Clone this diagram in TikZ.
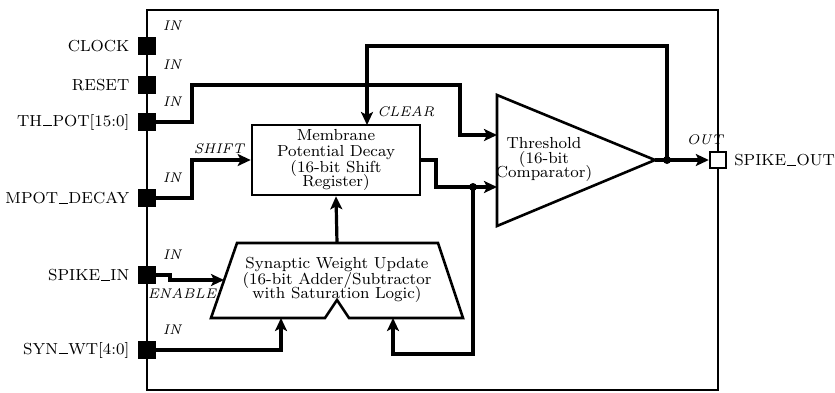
\documentclass[tikz,border=0pt]{standalone}
\usetikzlibrary{arrows.meta,calc}
\newcommand{\usc}{\leavevmode\kern.05em\vbox{\hrule width.55em height 0.45pt}\kern.05em}
\begin{document}
\begin{tikzpicture}[x=0.5pt,y=-0.5pt,
  wire/.style={line width=1.6pt},
  arr/.style={wire,-{Stealth[length=6.5pt,width=6pt,inset=1.5pt]}},
  pinbox/.style={draw, fill=black, minimum size=8pt, inner sep=0pt, line width=0.6pt},
  outpin/.style={draw, fill=white, minimum size=8pt, inner sep=0pt, line width=1.2pt},
  pinlbl/.style={font=\footnotesize, anchor=east, xshift=-1pt},
  iolbl/.style={font=\scriptsize\itshape, inner sep=1pt},
  blk/.style={draw, line width=1.3pt, fill=white},
  blktxt/.style={font=\fontsize{8}{7.8}\selectfont, align=center, inner sep=0pt},
  dot/.style={circle, fill=black, inner sep=0pt, minimum size=4pt}]
\useasboundingbox (0,0) rectangle (835,392);
% outer module
\draw[line width=1pt] (147,10) rectangle (718,390);
% pins
\node[pinbox] (pclk) at (147,46) {};
\node[pinbox] (prst) at (147,85) {};
\node[pinbox] (pth) at (147,122) {};
\node[pinbox] (pmpot) at (147,198) {};
\node[pinbox] (pspk) at (147,275) {};
\node[pinbox] (psyn) at (147,350) {};
\node[outpin] (pout) at (718,160) {};
\node[pinlbl] (lclk) at (pclk.west) {CLOCK};
\node[pinlbl] (lrst) at (prst.west) {RESET};
\node[pinlbl] (lth) at (pth.west) {TH\usc POT[15:0]};
\node[pinlbl] (lmpot) at (pmpot.west) {MPOT\usc DECAY};
\node[pinlbl] (lspk) at (pspk.west) {SPIKE\usc IN};
\node[pinlbl] (lsyn) at (psyn.west) {SYN\usc WT[4:0]};
\node[font=\footnotesize, anchor=west, xshift=0pt] (lout) at (pout.east) {SPIKE\usc OUT};
% IN labels
\node[iolbl] (in1) at (172,26) {IN};
\node[iolbl] (in2) at (172,65) {IN};
\node[iolbl] (in3) at (172,102) {IN};
\node[iolbl] (in4) at (172,178) {IN};
\node[iolbl] (in5) at (172,255) {IN};
\node[iolbl] (in6) at (172,330) {IN};
\node[iolbl] (lshift) at (219,149) {SHIFT};
\node[iolbl] (lenable) at (182,294) {ENABLE};
\node[iolbl, anchor=west] (lclear) at (375,112) {CLEAR};
\node[iolbl] (lout2) at (705,140) {OUT};
% membrane block
\node[blk, minimum width=84pt, minimum height=35pt] (mem) at (336,160) {};
\node[blktxt] (memtxt) at (336,160) {Membrane\\Potential Decay\\(16-bit Shift\\[-2pt]Register)};
% threshold comparator
\draw[blk] (497,95) coordinate (thtl) -- (655,160) coordinate (thout) -- (497,226) coordinate (thbl) -- cycle;
\node[blktxt] (thtxt) at (544,159) {Threshold\\(16-bit\\[-2.3pt]Comparator)};
\coordinate (thin1) at (497,135);
\coordinate (thin2) at (497,187);
% synaptic weight update
\draw[blk] (237,243) coordinate (sytl) -- (438,243) coordinate (sytr) -- (463,318) -- (349,318) -- (337,300) -- (325,318) -- (211,318) -- cycle;
\node[blktxt] (sytxt) at (337,280) {Synaptic Weight Update\\(16-bit Adder/Subtractor\\[-2pt]with Saturation Logic)};
\coordinate (sytop) at (337,243);
\coordinate (syin1) at (224,280);
\coordinate (syin2) at (393,318);
\coordinate (syin3) at (281,318);
\coordinate (memclr) at (367,125);
% junctions
\node[dot] (dotout) at (667,160) {};
\node[dot] (dotin) at (473,187) {};
% wires
\draw[arr] (pth.east) -| (192,85) -| (460,135) -- (thin1);
\draw[arr] (pmpot.east) -| (192,160) -- (mem.west);
\draw[arr] (dotout.center) -- (667,46) -| (memclr);
\draw[wire] (mem.east) -| (436,187) -- (dotin.center);
\draw[arr] (dotin.center) -- (thin2);
\draw[arr] (dotin.center) |- (393,354) -- (syin2);
\draw[arr] (sytop) -- (mem.south);
\draw[arr] (pspk.east) -| (170,280) -- (syin1);
\draw[arr] (psyn.east) -| (syin3);
\draw[wire] (thout) -- (dotout.center);
\draw[arr] (dotout.center) -- (pout.west);
\end{tikzpicture}
\end{document}
